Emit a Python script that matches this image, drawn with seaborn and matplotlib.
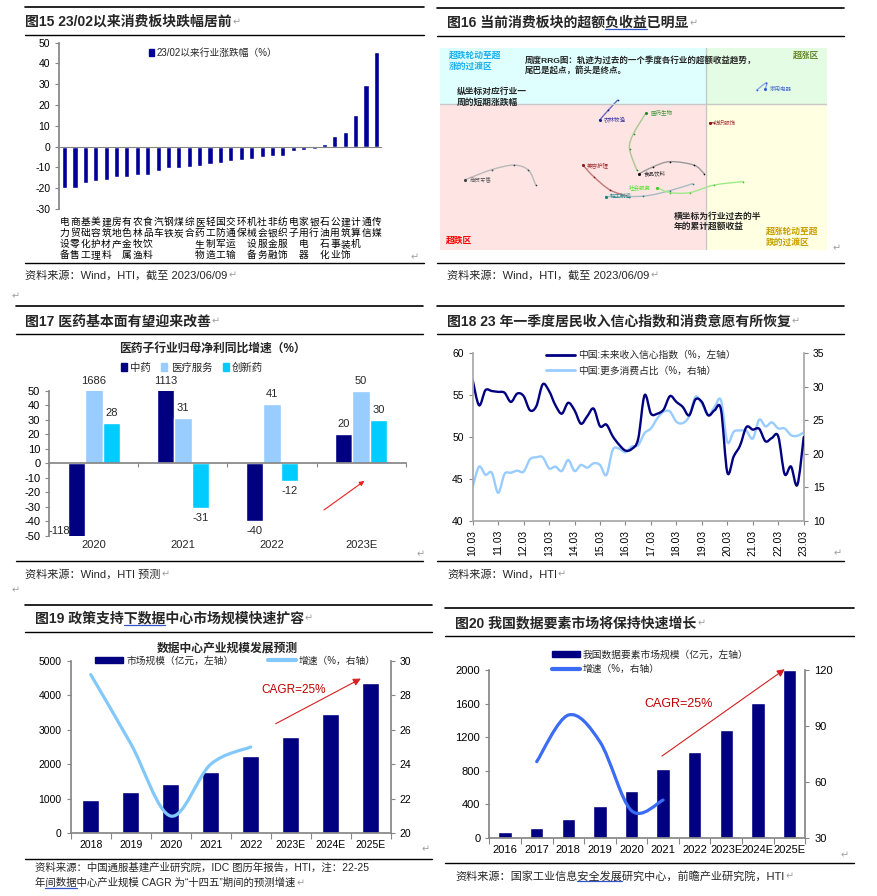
import matplotlib
matplotlib.use('Agg')
import matplotlib.pyplot as plt
from matplotlib.lines import Line2D
from matplotlib.patches import Rectangle, PathPatch
from matplotlib.path import Path
import numpy as np
import pandas as pd
import seaborn as sns

sns.set_theme(style='ticks')
plt.rcParams['font.family'] = ['Liberation Sans', 'Noto Sans CJK SC', 'DejaVu Sans']
plt.rcParams['axes.unicode_minus'] = False

# ---- fig 15: industry change since 23/02
ind_names = ['电力设备', '商贸零售', '基础化工', '美容护理', '建筑材料', '房地产',
             '有色金属', '农林牧渔', '食品饮料', '汽车', '钢铁', '煤炭', '综合',
             '医药生物', '轻工制造', '国防军工', '交通运输', '环保', '机械设备',
             '社会服务', '非银金融', '纺织服饰', '电子', '家用电器', '银行',
             '石油石化', '公用事业', '建筑装饰', '计算机', '通信', '传媒']
ind_chg = [-20.0, -19.7, -17.3, -16.5, -16.0, -14.4, -14.4, -13.8, -13.5, -11.9,
           -10.4, -10.4, -9.6, -9.3, -8.5, -7.7, -6.7, -6.3, -5.8, -5.0, -4.6,
           -4.3, -2.1, -1.8, -1.0, 1.4, 5.0, 6.9, 15.1, 29.5, 45.4]

# ---- fig 16: weekly RRG trails (tail -> head)
rrg_names = ['家用电器', '农林牧渔', '医药生物', '纺织服饰', '美容护理',
             '轻工制造', '商贸零售', '食品饮料', '社会服务']
rrg_x = [[100.76, 100.91, 100.89], [98.67, 98.53, 98.40],
         [98.96, 98.85, 98.91, 99.10], [100.12, 100.06],
         [98.84, 98.56, 98.31, 98.15], [99.80, 99.46, 99.06, 98.49],
         [97.44, 97.33, 97.11, 96.78, 96.38], [99.97, 99.82, 99.46, 99.21, 99.00],
         [100.56, 100.12, 99.76, 99.46, 99.26]]
rrg_y = [[100.28, 100.43, 100.30], [100.08, 99.88, 99.68],
         [98.68, 99.11, 99.41, 99.83], [99.63, 99.63],
         [98.15, 98.28, 98.55, 98.78], [98.41, 98.27, 98.16, 98.15],
         [98.38, 98.68, 98.78, 98.69, 98.49], [98.61, 98.78, 98.85, 98.75, 98.61],
         [98.45, 98.38, 98.23, 98.23, 98.33]]

# ---- fig 17: pharma sub-industry profit growth
med_years = ['2020', '2021', '2022', '2023E']
med_series = ['中药', '医疗服务', '创新药']
tcm = [-118, 1113, -40, 20]
med_service = [1686, 31, 41, 50]
innov_drug = [28, -31, -12, 30]

# ---- fig 18: depositor survey, quarterly 10Q1..23Q1
conf_index = [56.8, 53.8, 55.6, 55.5, 55.4, 55.3, 54.2, 55.2, 54.9, 53.2, 53.7,
              56.3, 55.5, 53.8, 52.8, 54.1, 53.2, 51.6, 52.5, 53.4, 51.3, 51.5,
              50.1, 49.1, 48.4, 48.6, 49.8, 55.0, 52.8, 52.8, 53.3, 54.9, 54.2,
              53.6, 52.6, 54.5, 54.2, 52.6, 53.2, 53.3, 45.8, 47.7, 49.0, 51.2,
              50.9, 51.0, 49.5, 49.9, 50.1, 45.6, 46.5, 44.3, 50.0]
more_spend = [15.1, 18.1, 16.9, 17.2, 14.2, 17.0, 17.2, 17.5, 17.35, 19.2, 19.5,
              19.5, 17.85, 18.1, 17.45, 19.1, 17.45, 18.35, 17.95, 18.6, 18.35,
              16.85, 20.6, 20.8, 20.25, 21.1, 21.3, 23.1, 23.8, 25.3, 26.3, 26.3,
              24.8, 24.6, 25.6, 28.5, 27.5, 25.8, 27.0, 28.0, 21.8, 23.3, 23.5,
              23.4, 22.3, 25.1, 24.1, 24.7, 23.8, 23.8, 22.8, 22.7, 23.2]
survey_years = list(range(10, 24))

# ---- fig 19: data center market
dc_years = ['2018', '2019', '2020', '2021', '2022', '2023E', '2024E', '2025E']
dc_size = [955, 1197, 1438, 1786, 2230, 2780, 3465, 4344]
dc_growth = [29.2, 25.2, 21.0, 24.0, 25.0]

# ---- fig 20: data element market
de_years = ['2016', '2017', '2018', '2019', '2020', '2021', '2022', '2023E',
            '2024E', '2025E']
de_size = [70, 115, 219, 382, 557, 823, 1026, 1284, 1602, 1996]
de_growth = [70.8, 95.8, 81.5, 44.5, 50.2]  # 2017-2021

W, H = 877, 896
fig = plt.figure(figsize=(W / 100, H / 100), dpi=100)
fig.patch.set_facecolor('white')
renderer = fig.canvas.get_renderer()
GRAY = '#868686'
MARK = '#a0a0a0'


def px_axes(l, t, r, b):
    return fig.add_axes([l / W, 1 - b / H, (r - l) / W, (b - t) / H])


def ftext(x, y, s, **kw):
    kw.setdefault('va', 'center')
    return fig.text(x / W, 1 - y / H, s, **kw)


def hrule(x0, x1, y, lw=1.0):
    fig.add_artist(Line2D([x0 / W, x1 / W], [1 - y / H] * 2, color='black', lw=lw))


def text_width(s, t):
    tmp = fig.text(0, 0, s, fontproperties=t.get_fontproperties())
    w = tmp.get_window_extent(renderer).width
    tmp.remove()
    return w


def mark_after(t):
    bb = t.get_window_extent(renderer)
    fig.text(bb.x1 / W + 0.001, t.get_position()[1], '↵', color=MARK,
             fontsize=7, va='center', family='DejaVu Sans')


def underline(t, word):
    s = t.get_text()
    i = s.index(word)
    bb = t.get_window_extent(renderer)
    x0 = bb.x0 + text_width(s[:i], t)
    x1 = bb.x0 + text_width(s[:i + len(word)], t)
    y = bb.y0 + 0.5
    fig.add_artist(Line2D([x0 / W, x1 / W], [y / H] * 2, color='#3355cc', lw=0.9))


def frame(x0, x1, top, title_y, rule_y, src_rule_y, tx, title, srcs, src_y,
          ul=None, src_ul=None, src_size=8):
    hrule(x0, x1, top, 1.2)
    hrule(x0, x1, rule_y, 1.0)
    hrule(x0, x1, src_rule_y, 1.0)
    t = ftext(tx, title_y, title, fontsize=10, fontweight='bold')
    mark_after(t)
    if ul:
        underline(t, ul)
    for k, s in enumerate(srcs):
        st = ftext(tx, src_y + k * 15, s, fontsize=src_size)
        if k == len(srcs) - 1:
            mark_after(st)
        if src_ul and src_ul in s:
            underline(st, src_ul)


def smooth_path(ax, xs, ys, **kw):
    pts = np.column_stack([xs, ys]).astype(float)
    n = len(pts)
    verts, codes = [pts[0]], [Path.MOVETO]
    for i in range(n - 1):
        p0, p1 = pts[max(i - 1, 0)], pts[i]
        p2, p3 = pts[i + 1], pts[min(i + 2, n - 1)]
        verts += [p1 + (p2 - p0) / 6, p2 - (p3 - p1) / 6, p2]
        codes += [Path.CURVE4] * 3
    ax.add_patch(PathPatch(Path(verts, codes), fill=False, capstyle='round',
                           joinstyle='round', **kw))


def gray_spines(ax, sides):
    for s in ['top', 'right', 'left', 'bottom']:
        ax.spines[s].set_visible(s in sides)
        ax.spines[s].set_color(GRAY)
    ax.tick_params(colors='black', labelsize=7.5, width=0.8, length=3)
    ax.tick_params(axis='both', color=GRAY)


# ================= frames =================
frame(25, 424, 7.3, 22, 35, 263, 25, '图15 23/02以来消费板块跌幅居前',
      ['资料来源：Wind，HTI，截至 2023/06/09'], 275)
frame(437, 844, 8.3, 23, 35.7, 263, 447, '图16 当前消费板块的超额负收益已明显',
      ['资料来源：Wind，HTI，截至 2023/06/09'], 275, ul='负收益')
frame(16, 423, 306, 321.7, 334, 561, 25, '图17 医药基本面有望迎来改善',
      ['资料来源：Wind，HTI 预测'], 574)
frame(437, 844, 306, 321.7, 334, 561, 447,
      '图18 23 年一季度居民收入信心指数和消费意愿有所恢复',
      ['资料来源：Wind，HTI'], 574)
frame(25, 432, 605, 618, 632, 859, 35, '图19 政策支持下数据中心市场规模快速扩容',
      ['资料来源：中国通服基建产业研究院，IDC 图历年报告，HTI，注：22-25',
       '年间数据中心产业规模 CAGR 为“十四五”期间的预测增速'], 868,
      ul='下数据', src_ul='间数据', src_size=7.5)
frame(445, 854, 608, 623, 636, 863, 455, '图20 我国数据要素市场将保持快速增长',
      ['资料来源：国家工业信息安全发展研究中心，前瞻产业研究院，HTI'], 876,
      src_ul='安全发展')
for (mx, my) in [(411, 257), (833, 248), (417, 554), (834, 553), (422, 849),
                 (841, 855), (12, 296), (12, 590)]:
    ftext(mx, my, '↵', color=MARK, fontsize=7, family='DejaVu Sans')

# ================= fig 15 =================
ax = px_axes(59.3, 42.7, 381.7, 209)
sns.barplot(x=ind_names, y=ind_chg, color='#000099', saturation=1, width=0.5, ax=ax)
ax.set_ylim(-30, 50)
ax.set_xlim(-0.5, len(ind_names) - 0.5)
ax.set_yticks(range(-30, 51, 10))
gray_spines(ax, ['left'])
ax.axhline(0, color=GRAY, lw=0.8)
ax.set_xticks(range(len(ind_names)))
ax.set_xticklabels(['\n'.join(n) for n in ind_names], fontsize=7, linespacing=1.12)
ax.tick_params(axis='x', length=0, pad=6)
for lab in ax.get_xticklabels():
    lab.set_va('top')
ax.set_xlabel('')
ax.legend([Rectangle((0, 0), 1, 1, color='#000099')], ['23/02以来行业涨跌幅（%）'],
          loc='upper left', bbox_to_anchor=(0.25, 1.02), frameon=False, fontsize=7,
          handlelength=0.6, handleheight=0.7, handletextpad=0.2)

# ================= fig 16 =================
ax = px_axes(440, 48.3, 827, 250)
xl, yl = (96, 101.82), (97.08, 101.12)
ax.set_xlim(*xl)
ax.set_ylim(*yl)
ax.fill_between([xl[0], 100], 100, yl[1], color='#dfffff', lw=0)
ax.fill_between([100, xl[1]], 100, yl[1], color='#e3fce3', lw=0)
ax.fill_between([xl[0], 100], yl[0], 100, color='#ffe4e4', lw=0)
ax.fill_between([100, xl[1]], yl[0], 100, color='#ffffe2', lw=0)
ax.axvline(100, color='#c8c8c8', lw=1)
ax.axhline(100, color='#c8c8c8', lw=1)
for s in ax.spines.values():
    s.set_visible(False)
ax.set_xticks([])
ax.set_yticks([])
line_cols = ['#8fa8e8', '#6a6ac0', '#a8c890', '#b06060', '#c07878', '#a8bcc4',
             '#b8b8b8', '#9a9a9a', '#9eea8a']
dot_cols = ['#3060d0', '#20208a', '#2a8a2a', '#8b1010', '#8b1a1a', '#108080',
            '#404040', '#101010', '#40d020']
lab_cols = ['#5070d0', '#3a3aa0', '#3a9a3a', '#a03030', '#a03030', '#208888',
            '#606060', '#303030', '#50dd30']
for k, name in enumerate(rrg_names):
    smooth_path(ax, rrg_x[k], rrg_y[k], edgecolor=line_cols[k], lw=1.0)
    sns.scatterplot(x=rrg_x[k][:-1], y=rrg_y[k][:-1], color=dot_cols[k], s=1.5,
                    linewidth=0, ax=ax)
    ax.scatter(rrg_x[k][-1], rrg_y[k][-1], color=dot_cols[k], s=5, zorder=3, lw=0)
    left = name == '社会服务'
    ax.annotate(name, (rrg_x[k][-1], rrg_y[k][-1]), xytext=(-4 if left else 3, 0),
                textcoords='offset points', fontsize=4, color=lab_cols[k],
                va='center', ha='right' if left else 'left')
ftext(449, 55, '超跌轮动至超', color='#1ab0f0', fontsize=6.3, fontweight='bold')
ftext(449, 66.7, '涨的过渡区', color='#1ab0f0', fontsize=6.3, fontweight='bold')
ftext(793, 55.7, '超涨区', color='#6a8a2a', fontsize=6.3, fontweight='bold')
ftext(446, 240, '超跌区', color='#ff0000', fontsize=6.3, fontweight='bold')
ftext(766, 231.7, '超涨轮动至超', color='#c8a000', fontsize=6.3, fontweight='bold')
ftext(766, 242.7, '跌的过渡区', color='#c8a000', fontsize=6.3, fontweight='bold')
ftext(524.7, 60, '周度RRG图：轨迹为过去的一个季度各行业的超额收益趋势，',
      fontsize=6.1, fontweight='bold')
ftext(524.7, 70.5, '尾巴是起点，箭头是终点。', fontsize=6.1, fontweight='bold')
ftext(457, 91.7, '纵坐标对应行业一', fontsize=6.3, fontweight='bold')
ftext(457, 102.3, '周的短期涨跌幅', fontsize=6.3, fontweight='bold')
ftext(673.7, 216, '横坐标为行业过去的半', fontsize=6.3, fontweight='bold')
ftext(673.7, 226.7, '年的累计超额收益', fontsize=6.3, fontweight='bold')

# ================= fig 17 =================
ax = px_axes(49.3, 390.7, 405.7, 535.7)
med_df = pd.DataFrame({'year': med_years * 3,
                       'series': np.repeat(med_series, len(med_years)),
                       'value': tcm + med_service + innov_drug})
med_pal = {'中药': '#000080', '医疗服务': '#99ccff', '创新药': '#00ccff'}
sns.barplot(data=med_df, x='year', y='value', hue='series', hue_order=med_series,
            palette=med_pal, saturation=1, width=0.59, gap=0, ax=ax, legend=False)
ax.set_ylim(-50, 50)
ax.set_xlim(-0.5, 3.5)
ax.set_yticks(range(-50, 51, 10))
gray_spines(ax, ['left', 'bottom'])
ax.tick_params(labelsize=8)
ax.spines['bottom'].set_position(('data', 0))
ax.set_xticks(np.arange(-0.5, 4, 1))
ax.set_xticklabels([])
ax.tick_params(axis='x', direction='out', length=3)
ax.set_xlabel('')
ax.set_ylabel('')
for i, yr in enumerate(med_years):
    ax.text(i, -53, yr, ha='center', va='top', fontsize=8)
for cont, vals in zip(ax.containers, [tcm, med_service, innov_drug]):
    for bar, v in zip(cont, vals):
        cx = bar.get_x() + bar.get_width() / 2
        if v < -50:
            ax.text(bar.get_x() + 0.15 * bar.get_width(), -50, str(v), ha='right',
                    va='bottom', fontsize=8)
        elif v >= 0:
            ax.text(cx, min(v, 50) + 3.5, str(v), ha='center', va='bottom', fontsize=8)
        else:
            ax.text(cx, v - 3.5, str(v), ha='center', va='top', fontsize=8)
ax.annotate('', xy=(3.062, -11.1), xytext=(2.557, -33.4),
            arrowprops=dict(arrowstyle='-|>', color='#ee2020', lw=0.8,
                            mutation_scale=7))
ftext(212, 349, '医药子行业归母净利同比增速（%）', fontsize=8.5, fontweight='bold',
      ha='center')
ax.legend([Rectangle((0, 0), 1, 1, color=med_pal[s]) for s in med_series], med_series,
          loc='center', bbox_to_anchor=(0.4, 1.16), ncol=3, frameon=False,
          fontsize=7.5, handlelength=0.6, handleheight=0.7, handletextpad=0.3,
          columnspacing=1.0)

# ================= fig 18 =================
ax = px_axes(472.7, 353.3, 803.7, 521)
q = np.arange(len(conf_index))
ax2 = ax.twinx()
ax.set_xlim(0, len(conf_index) - 1)
ax.set_ylim(40, 60)
ax2.set_ylim(10, 35)
ax.set_yticks(range(40, 61, 5))
ax2.set_yticks(range(10, 36, 5))
smooth_path(ax2, q, more_spend, edgecolor='#99ccff', lw=1.7)
smooth_path(ax, q, conf_index, edgecolor='#000080', lw=1.7)
ax.set_zorder(ax2.get_zorder() + 1)
ax.patch.set_visible(False)
gray_spines(ax, ['left', 'bottom'])
gray_spines(ax2, ['right'])
ax2.spines['right'].set_color('#a8a8a8')
ax.spines['left'].set_color('#a8a8a8')
ax.spines['bottom'].set_color('#a8a8a8')
ax.set_xticks(range(0, len(conf_index), 4))
ax.set_xticklabels(['%02d.03' % y for y in survey_years], rotation=90, fontsize=7.5)
ax.legend([Line2D([], [], color='#000080', lw=2), Line2D([], [], color='#99ccff', lw=2)],
          ['中国:未来收入信心指数（%，左轴）', '中国:更多消费占比（%，右轴）'],
          loc='upper left', bbox_to_anchor=(0.195, 1.07), frameon=False, fontsize=7,
          handlelength=3.0, labelspacing=0.55, handletextpad=0.3)

# ================= fig 19 =================
ax = px_axes(70.7, 660.7, 390.7, 833.3)
sns.barplot(x=dc_years, y=dc_size, color='#000080', saturation=1, width=0.425, ax=ax)
ax2 = ax.twinx()
ax.set_xlim(-0.5, len(dc_years) - 0.5)
ax.set_ylim(0, 5000)
ax2.set_ylim(20, 30)
ax.set_yticks(range(0, 5001, 1000))
ax2.set_yticks(range(20, 31, 2))
smooth_path(ax2, np.arange(len(dc_growth)), dc_growth, edgecolor='#82c8fa', lw=2.3)
gray_spines(ax, ['left', 'bottom'])
gray_spines(ax2, ['right'])
ax.set_xticks(np.arange(-0.5, len(dc_years), 1), minor=True)
ax.tick_params(axis='x', which='major', length=0, pad=5)
ax.tick_params(axis='x', which='minor', length=4, color=GRAY, width=0.8)
ax.annotate('', xy=(6.815, 4519), xytext=(4.565, 3137), annotation_clip=False,
            arrowprops=dict(arrowstyle='-|>', color='#d42020', lw=0.8,
                            mutation_scale=11))
ftext(294, 690, 'CAGR=25%', color='#c00000', fontsize=8.5, ha='center')
ftext(227, 649, '数据中心产业规模发展预测', fontsize=8.5, fontweight='bold', ha='center')
ax.legend([Rectangle((0, 0), 1, 1, color='#000080'), Line2D([], [], color='#82c8fa', lw=3)],
          ['市场规模（亿元，左轴）', '增速（%，右轴）'], loc='center',
          bbox_to_anchor=(0.515, 1.0), ncol=2, frameon=False, fontsize=7,
          handlelength=2.9, handleheight=0.6, handletextpad=0.3, columnspacing=3.5)

# ================= fig 20 =================
ax = px_axes(489.3, 670, 805.3, 837.7)
sns.barplot(x=de_years, y=de_size, color='#000080', saturation=1, width=0.42, ax=ax)
ax2 = ax.twinx()
ax.set_xlim(-0.5, len(de_years) - 0.5)
ax.set_ylim(0, 2000)
ax2.set_ylim(30, 120)
ax.set_yticks(range(0, 2001, 400))
ax2.set_yticks(range(30, 121, 30))
smooth_path(ax2, np.arange(1, len(de_growth) + 1), de_growth, edgecolor='#3a6cf4',
            lw=2.3)
gray_spines(ax, ['left', 'bottom'])
gray_spines(ax2, ['right'])
ax.tick_params(labelsize=8)
ax2.tick_params(labelsize=8)
ax.set_xticks(np.arange(-0.5, len(de_years), 1), minor=True)
ax.tick_params(axis='x', which='major', length=0, pad=5)
ax.tick_params(axis='x', which='minor', length=4, color=GRAY, width=0.8)
ax.annotate('', xy=(8.92, 2028), xytext=(4.89, 954), annotation_clip=False,
            arrowprops=dict(arrowstyle='-|>', color='#d42020', lw=0.8,
                            mutation_scale=11))
ftext(679, 704, 'CAGR=25%', color='#c00000', fontsize=9, ha='center')
ax.legend([Rectangle((0, 0), 1, 1, color='#000080'), Line2D([], [], color='#3a6cf4', lw=3)],
          ['我国数据要素市场规模（亿元，左轴）', '增速（%，右轴）'], loc='center left',
          bbox_to_anchor=(0.17, 1.05), frameon=False, fontsize=7,
          handlelength=2.9, handleheight=0.6, handletextpad=0.3, labelspacing=0.45)

fig.savefig('out.png', dpi=100)
